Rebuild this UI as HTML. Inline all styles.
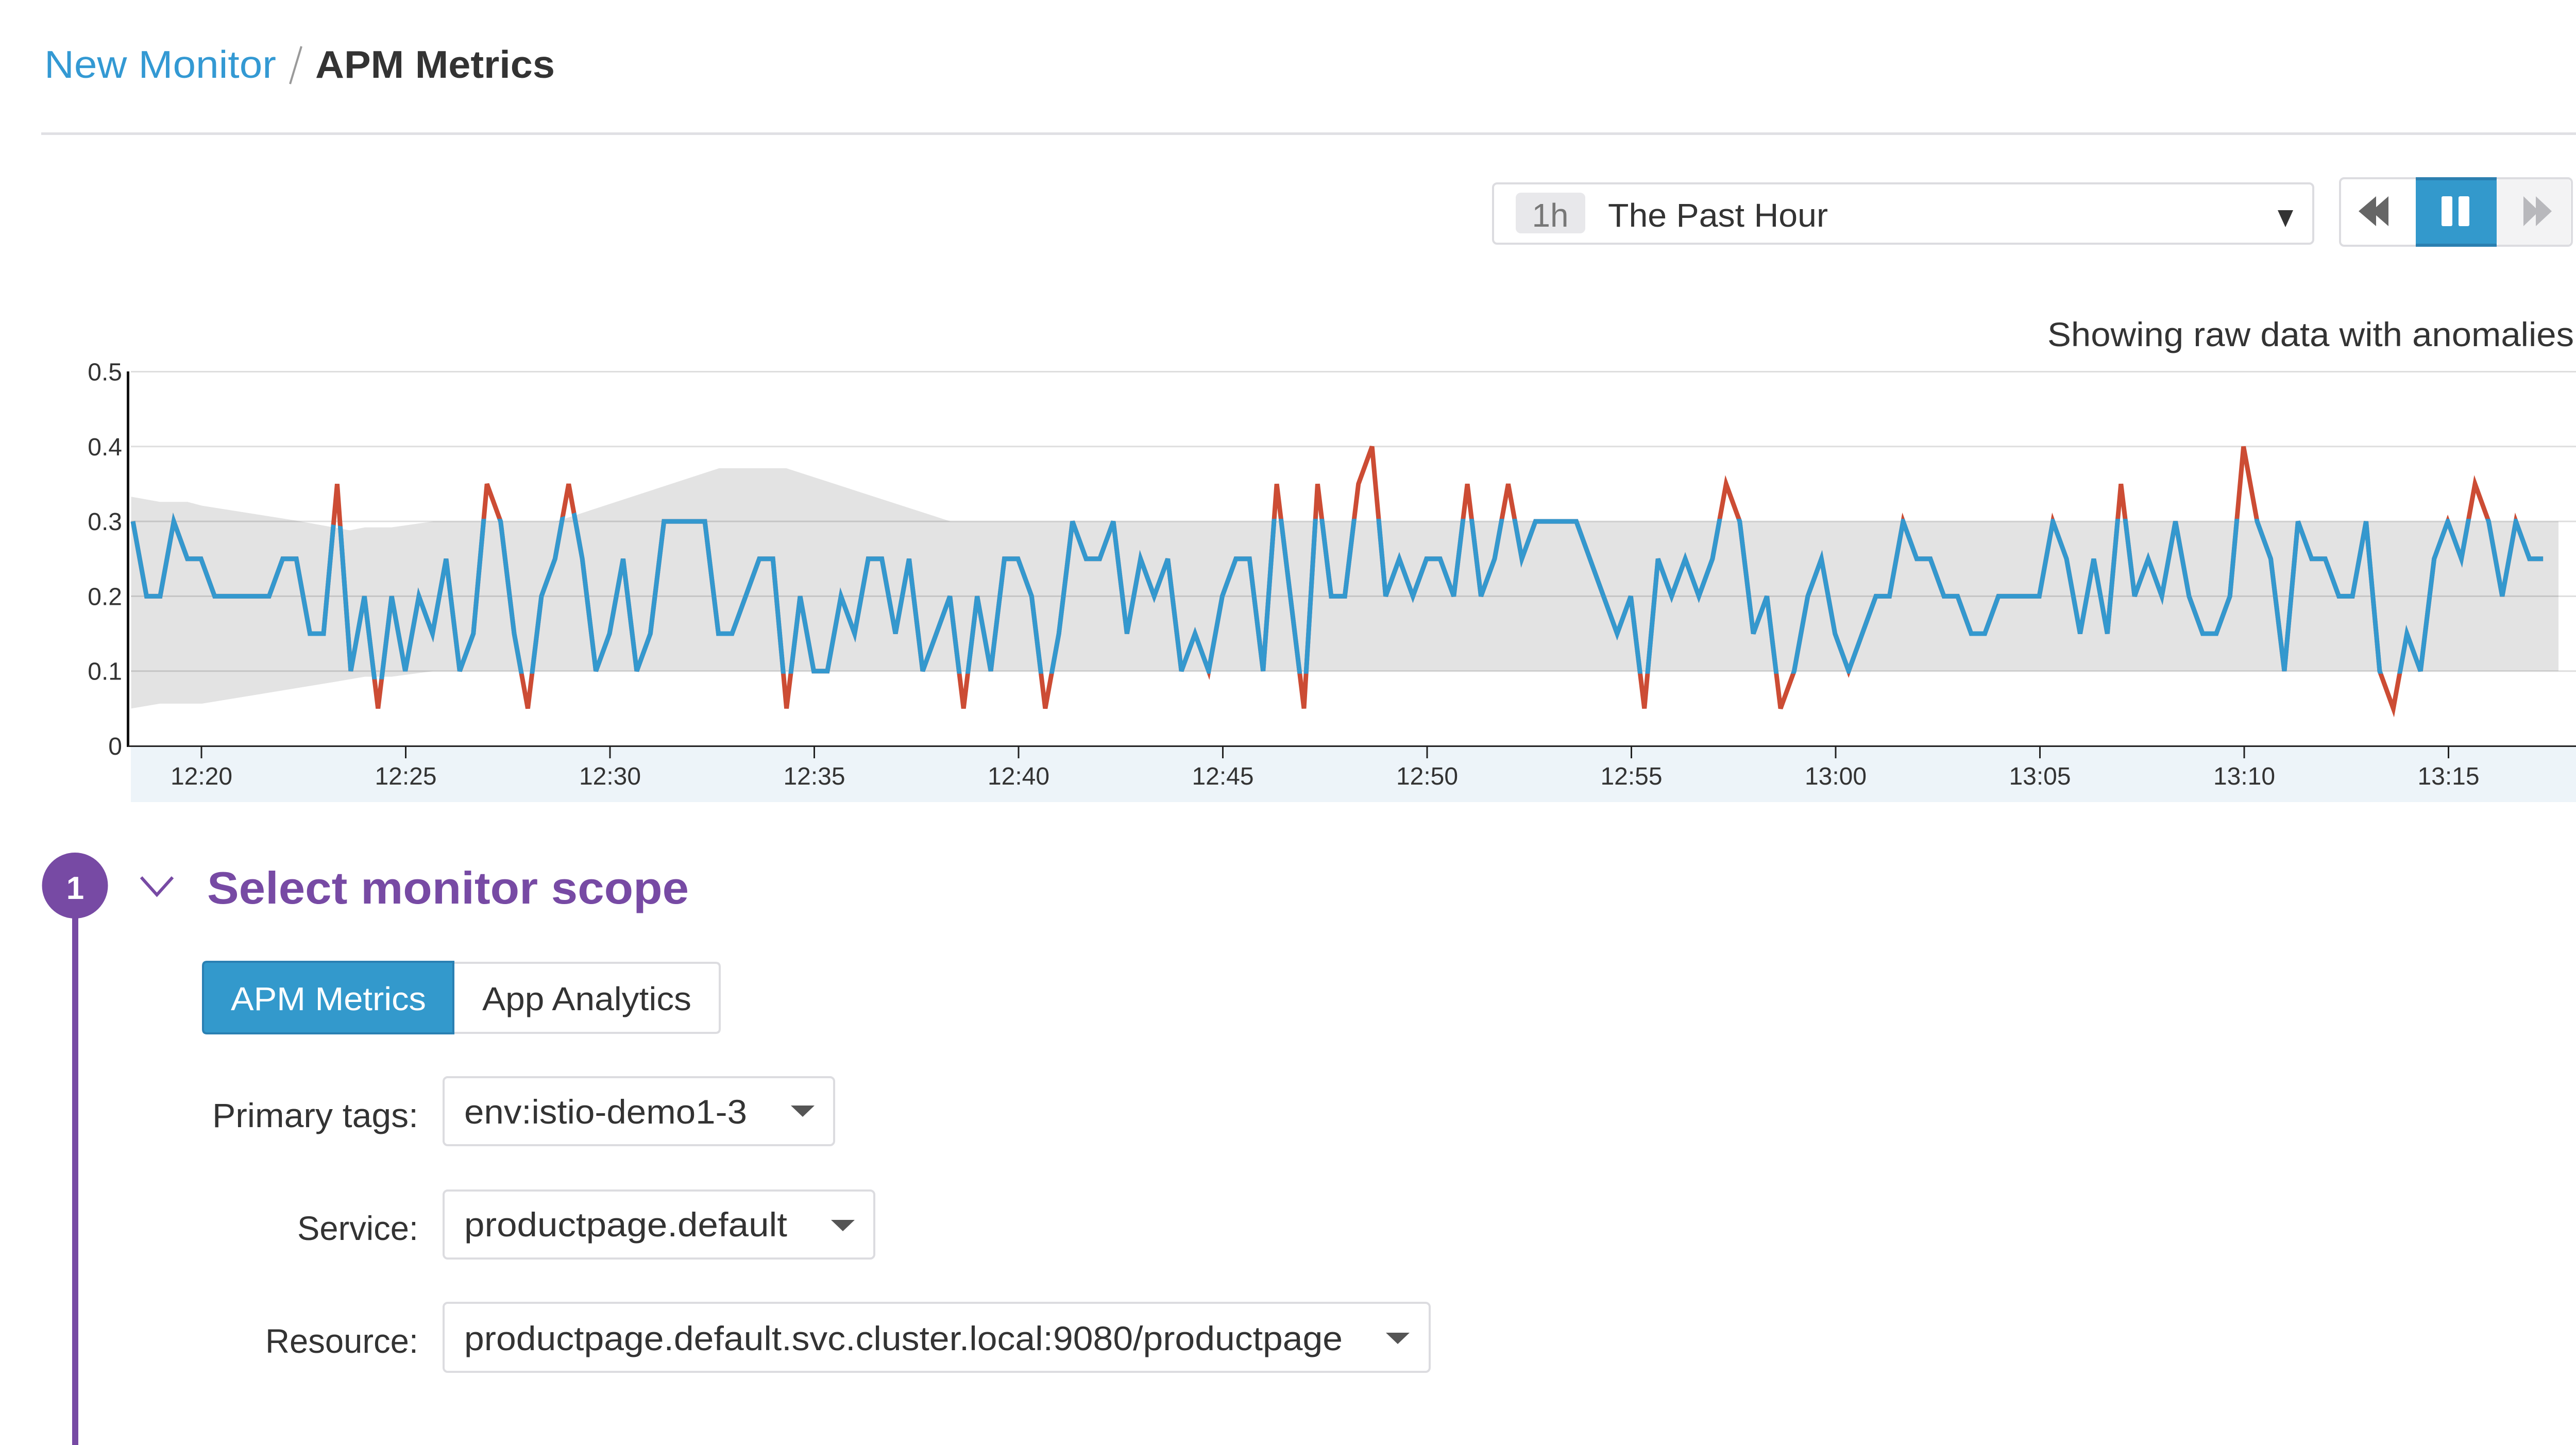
<!DOCTYPE html>
<html>
<head>
<meta charset="utf-8">
<style>
  html,body{margin:0;padding:0;background:#fff;}
  svg{display:block;}
  text{font-family:"Liberation Sans",Arial,sans-serif;}
</style>
</head>
<body>
<svg xmlns="http://www.w3.org/2000/svg" width="5120" height="2805" viewBox="0 0 5120 2805">
  <rect x="0" y="0" width="5120" height="2805" fill="#fff"/>

  <!-- Breadcrumb -->
  <text x="86" y="151" font-size="75" fill="#3399d3" textLength="450" lengthAdjust="spacingAndGlyphs">New Monitor</text>
  <line x1="585" y1="90" x2="563" y2="163" stroke="#9a9a9a" stroke-width="4"/>
  <text x="612" y="151" font-size="75" font-weight="bold" fill="#333" textLength="465" lengthAdjust="spacingAndGlyphs">APM Metrics</text>
  <rect x="80" y="257" width="4958" height="5" fill="#e0e0e4"/>

  <!-- Time dropdown -->
  <rect x="2898" y="356" width="1592" height="117" rx="8" fill="#fff" stroke="#dcdce0" stroke-width="4"/>
  <rect x="2942" y="374" width="135" height="79" rx="10" fill="#e8e8eb"/>
  <text x="3009" y="440" font-size="64" fill="#777" text-anchor="middle" textLength="71" lengthAdjust="spacingAndGlyphs">1h</text>
  <text x="3121" y="440" font-size="64" fill="#333" textLength="427" lengthAdjust="spacingAndGlyphs">The Past Hour</text>
  <polygon points="4421,408 4451,408 4436,441" fill="#333"/>

  <!-- Playback buttons -->
  <rect x="4542" y="346" width="450" height="131" rx="8" fill="#fff" stroke="#dcdce0" stroke-width="4"/>
  <rect x="4846" y="348" width="143" height="127" rx="6" fill="#f3f3f4"/>
  <rect x="4689" y="344" width="157" height="135" fill="#3399cc"/>
  <rect x="4689" y="344" width="157" height="6" fill="#2b7fb0"/>
  <rect x="4689" y="473" width="157" height="6" fill="#2b7fb0"/>
  <rect x="4739" y="381" width="21" height="58" rx="3" fill="#fff"/>
  <rect x="4772" y="381" width="21" height="58" rx="3" fill="#fff"/>
  <polygon points="4578,410 4612,381 4612,439" fill="#666"/>
  <polygon points="4603,410 4636,381 4636,439" fill="#666"/>
  <polygon points="4898,381 4928,410 4898,439" fill="#b8b8bc"/>
  <polygon points="4922,381 4953,410 4922,439" fill="#b8b8bc"/>

  <!-- Chart title -->
  <text x="4996" y="672" font-size="66" fill="#333" text-anchor="end" textLength="1022" lengthAdjust="spacingAndGlyphs">Showing raw data with anomalies</text>

  <!-- Chart -->
  <defs>
    <clipPath id="bandclip" clipPathUnits="userSpaceOnUse">
      <polygon points="240,959.2 310.6,969.3 364,969.3 392,976.6 575,1005.6 679,1024.5 708,1018.7 760,1018.7 841,1007.1 1080,1007.1 1396,903.9 1526,903.9 1845,1007.1 4980,1007.1 4980,1307.7 841,1307.7 760,1318.6 708,1318.6 650,1328.6 392,1370.9 310.6,1370.9 240,1380.4"/>
    </clipPath>
  </defs>

  <!-- anomaly band -->
  <polygon points="254.6,964.2 310.6,974.3 364,974.3 392,981.6 575,1010.6 679,1029.5 708,1023.7 760,1023.7 841,1012.1 1080,1012.1 1396,908.9 1526,908.9 1845,1012.1 4966,1012.1 4966,1302.7 841,1302.7 760,1313.6 708,1313.6 650,1323.6 392,1365.9 310.6,1365.9 254.6,1375.4" fill="#e3e3e3"/>

  <!-- gridlines -->
  <g stroke="rgba(0,0,0,0.13)" stroke-width="3">
    <line x1="254" y1="721.5" x2="5014" y2="721.5"/>
    <line x1="254" y1="866.8" x2="5014" y2="866.8"/>
    <line x1="254" y1="1012.1" x2="5014" y2="1012.1"/>
    <line x1="254" y1="1157.4" x2="5014" y2="1157.4"/>
    <line x1="254" y1="1302.7" x2="5014" y2="1302.7"/>
  </g>

  <!-- x axis band -->
  <rect x="254" y="1448" width="4760" height="109" fill="#edf4f9"/>
  <!-- axes -->
  <rect x="246" y="721" width="5" height="729" fill="#111"/>
  <rect x="249" y="1447" width="4765" height="3" fill="#222"/>
  <g stroke="#222" stroke-width="3">
    <line x1="391" y1="1448" x2="391" y2="1472"/>
    <line x1="787.5" y1="1448" x2="787.5" y2="1472"/>
    <line x1="1184" y1="1448" x2="1184" y2="1472"/>
    <line x1="1580.5" y1="1448" x2="1580.5" y2="1472"/>
    <line x1="1977" y1="1448" x2="1977" y2="1472"/>
    <line x1="2373.5" y1="1448" x2="2373.5" y2="1472"/>
    <line x1="2770" y1="1448" x2="2770" y2="1472"/>
    <line x1="3166.5" y1="1448" x2="3166.5" y2="1472"/>
    <line x1="3563" y1="1448" x2="3563" y2="1472"/>
    <line x1="3959.5" y1="1448" x2="3959.5" y2="1472"/>
    <line x1="4356" y1="1448" x2="4356" y2="1472"/>
    <line x1="4752.5" y1="1448" x2="4752.5" y2="1472"/>
  </g>

  <!-- series: red underneath, blue clipped to band -->
  <g transform="translate(258 1448) scale(26.43 -14.53)">
    <polyline id="series" fill="none" stroke="#cc4c34" stroke-width="9" vector-effect="non-scaling-stroke" stroke-miterlimit="4"
      points="0,30 1,20 2,20 3,30 4,25 5,25 6,20 7,20 8,20 9,20 10,20 11,25 12,25 13,15 14,15 15,35 16,10 17,20 18,5 19,20 20,10 21,20 22,15 23,25 24,10 25,15 26,35 27,30 28,15 29,5 30,20 31,25 32,35 33,25 34,10 35,15 36,25 37,10 38,15 39,30 40,30 41,30 42,30 43,15 44,15 45,20 46,25 47,25 48,5 49,20 50,10 51,10 52,20 53,15 54,25 55,25 56,15 57,25 58,10 59,15 60,20 61,5 62,20 63,10 64,25 65,25 66,20 67,5 68,15 69,30 70,25 71,25 72,30 73,15 74,25 75,20 76,25 77,10 78,15 79,10 80,20 81,25 82,25 83,10 84,35 85,20 86,5 87,35 88,20 89,20 90,35 91,40 92,20 93,25 94,20 95,25 96,25 97,20 98,35 99,20 100,25 101,35 102,25 103,30 104,30 105,30 106,30 107,25 108,20 109,15 110,20 111,5 112,25 113,20 114,25 115,20 116,25 117,35 118,30 119,15 120,20 121,5 122,10 123,20 124,25 125,15 126,10 127,15 128,20 129,20 130,30 131,25 132,25 133,20 134,20 135,15 136,15 137,20 138,20 139,20 140,20 141,30 142,25 143,15 144,25 145,15 146,35 147,20 148,25 149,20 150,30 151,20 152,15 153,15 154,20 155,40 156,30 157,25 158,10 159,30 160,25 161,25 162,20 163,20 164,30 165,10 166,5 167,15 168,10 169,25 170,30 171,25 172,35 173,30 174,20 175,30 176,25 177,25"/>
  </g>
  <g clip-path="url(#bandclip)">
    <g transform="translate(258 1448) scale(26.43 -14.53)">
      <polyline fill="none" stroke="#3498ce" stroke-width="9" vector-effect="non-scaling-stroke" stroke-miterlimit="4"
        points="0,30 1,20 2,20 3,30 4,25 5,25 6,20 7,20 8,20 9,20 10,20 11,25 12,25 13,15 14,15 15,35 16,10 17,20 18,5 19,20 20,10 21,20 22,15 23,25 24,10 25,15 26,35 27,30 28,15 29,5 30,20 31,25 32,35 33,25 34,10 35,15 36,25 37,10 38,15 39,30 40,30 41,30 42,30 43,15 44,15 45,20 46,25 47,25 48,5 49,20 50,10 51,10 52,20 53,15 54,25 55,25 56,15 57,25 58,10 59,15 60,20 61,5 62,20 63,10 64,25 65,25 66,20 67,5 68,15 69,30 70,25 71,25 72,30 73,15 74,25 75,20 76,25 77,10 78,15 79,10 80,20 81,25 82,25 83,10 84,35 85,20 86,5 87,35 88,20 89,20 90,35 91,40 92,20 93,25 94,20 95,25 96,25 97,20 98,35 99,20 100,25 101,35 102,25 103,30 104,30 105,30 106,30 107,25 108,20 109,15 110,20 111,5 112,25 113,20 114,25 115,20 116,25 117,35 118,30 119,15 120,20 121,5 122,10 123,20 124,25 125,15 126,10 127,15 128,20 129,20 130,30 131,25 132,25 133,20 134,20 135,15 136,15 137,20 138,20 139,20 140,20 141,30 142,25 143,15 144,25 145,15 146,35 147,20 148,25 149,20 150,30 151,20 152,15 153,15 154,20 155,40 156,30 157,25 158,10 159,30 160,25 161,25 162,20 163,20 164,30 165,10 166,5 167,15 168,10 169,25 170,30 171,25 172,35 173,30 174,20 175,30 176,25 177,25"/>
    </g>
  </g>

  <!-- y labels -->
  <g font-size="48" fill="#333" text-anchor="end">
    <text x="237" y="738.5">0.5</text>
    <text x="237" y="883.8">0.4</text>
    <text x="237" y="1029.1">0.3</text>
    <text x="237" y="1174.4">0.2</text>
    <text x="237" y="1319.7">0.1</text>
    <text x="237" y="1465">0</text>
  </g>
  <!-- x labels -->
  <g font-size="48" fill="#333" text-anchor="middle">
    <text x="391" y="1523">12:20</text>
    <text x="787.5" y="1523">12:25</text>
    <text x="1184" y="1523">12:30</text>
    <text x="1580.5" y="1523">12:35</text>
    <text x="1977" y="1523">12:40</text>
    <text x="2373.5" y="1523">12:45</text>
    <text x="2770" y="1523">12:50</text>
    <text x="3166.5" y="1523">12:55</text>
    <text x="3563" y="1523">13:00</text>
    <text x="3959.5" y="1523">13:05</text>
    <text x="4356" y="1523">13:10</text>
    <text x="4752.5" y="1523">13:15</text>
  </g>

  <!-- Step 1 -->
  <rect x="140" y="1760" width="12" height="1045" fill="#774aa4"/>
  <circle cx="145.5" cy="1719" r="64" fill="#774aa4"/>
  <text x="146" y="1745" font-size="62" font-weight="bold" fill="#fff" text-anchor="middle">1</text>
  <polyline points="274,1703 304.5,1737 335,1703" fill="none" stroke="#774aa4" stroke-width="6"/>
  <text x="402" y="1754" font-size="88" font-weight="bold" fill="#774aa4" textLength="935" lengthAdjust="spacingAndGlyphs">Select monitor scope</text>

  <!-- Tabs -->
  <path d="M880,1869 H1389 Q1397,1869 1397,1877 V1997 Q1397,2005 1389,2005 H880 Z" fill="#fff" stroke="#dcdce0" stroke-width="4"/>
  <path d="M402,1867 H880 V2006 H402 Q394,2006 394,1998 V1875 Q394,1867 402,1867 Z" fill="#3399cc" stroke="#2a80b3" stroke-width="4"/>
  <text x="448" y="1961" font-size="64" fill="#fff" textLength="379" lengthAdjust="spacingAndGlyphs">APM Metrics</text>
  <text x="936" y="1961" font-size="64" fill="#333" textLength="406" lengthAdjust="spacingAndGlyphs">App Analytics</text>

  <!-- Form rows -->
  <text x="812" y="2188" font-size="66" fill="#333" text-anchor="end" textLength="400" lengthAdjust="spacingAndGlyphs">Primary tags:</text>
  <rect x="861" y="2091" width="758" height="132" rx="8" fill="#fff" stroke="#dcdce0" stroke-width="4"/>
  <text x="901" y="2181" font-size="66" fill="#333" textLength="549" lengthAdjust="spacingAndGlyphs">env:istio-demo1-3</text>
  <polygon points="1535,2146 1581,2146 1558,2168" fill="#555"/>

  <text x="812" y="2407" font-size="66" fill="#333" text-anchor="end" textLength="235" lengthAdjust="spacingAndGlyphs">Service:</text>
  <rect x="861" y="2311" width="836" height="132" rx="8" fill="#fff" stroke="#dcdce0" stroke-width="4"/>
  <text x="901" y="2400" font-size="66" fill="#333" textLength="627" lengthAdjust="spacingAndGlyphs">productpage.default</text>
  <polygon points="1613,2368 1659,2368 1636,2390" fill="#555"/>

  <text x="812" y="2626" font-size="66" fill="#333" text-anchor="end" textLength="297" lengthAdjust="spacingAndGlyphs">Resource:</text>
  <rect x="861" y="2529" width="1914" height="134" rx="8" fill="#fff" stroke="#dcdce0" stroke-width="4"/>
  <text x="901" y="2621" font-size="66" fill="#333" textLength="1705" lengthAdjust="spacingAndGlyphs">productpage.default.svc.cluster.local:9080/productpage</text>
  <polygon points="2690,2587 2736,2587 2713,2609" fill="#555"/>
</svg>
</body>
</html>
